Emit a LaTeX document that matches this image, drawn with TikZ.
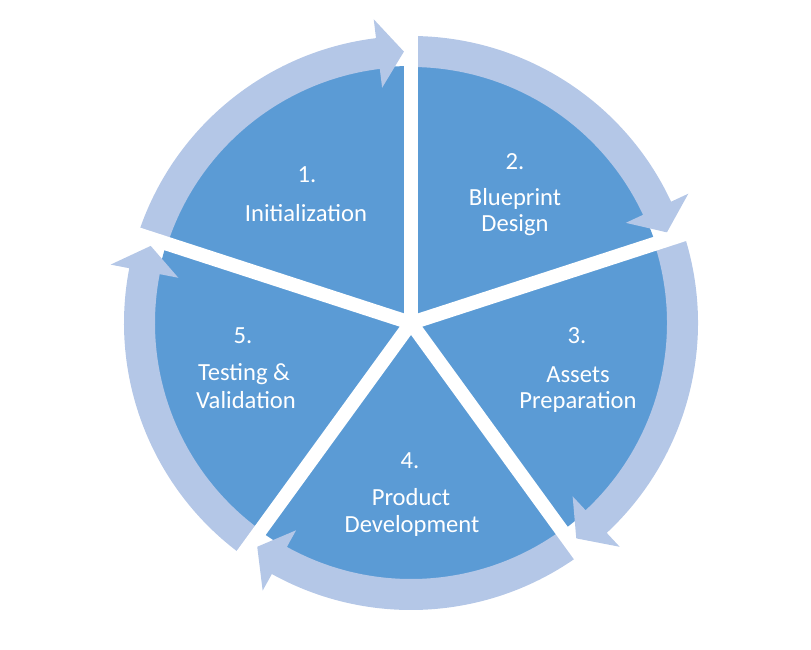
\documentclass[tikz,border=0pt]{standalone}
\usepackage{fontspec}
\setmainfont{Carlito}
\definecolor{pieblue}{HTML}{5B9BD5}
\definecolor{ringblue}{HTML}{B4C7E7}
\begin{document}
\begin{tikzpicture}[x=1pt,y=1pt,
  lbl/.style={text=white, font=\fontsize{24.6}{28}\selectfont, anchor=base, inner sep=0pt},
  ringarrow/.style={fill=ringblue, draw=none},
  gapline/.style={draw=white, line width=14pt}]
\useasboundingbox (0,0) rectangle (811,649);
\coordinate (c) at (411,326);
\fill[pieblue] (c) circle[radius=257];
\begin{scope}[shift={(c)}]
  \foreach \a/\b in {162/91.5, 90/19.5, 18/-52.5, -54/-124.5, -126/-196.5} {
    \pgfmathsetmacro\h{\b+5.5}
    \fill[ringarrow] (\a:287) arc[start angle=\a, end angle=\h, radius=287]
      -- (\h:306) -- (\b:271.5) -- (\h:237) -- (\h:256)
      arc[start angle=\h, end angle=\a, radius=256] -- cycle;
  }
  \coordinate (s1) at (90:310);
  \coordinate (s2) at (18:310);
  \coordinate (s3) at (-54:310);
  \coordinate (s4) at (-126:310);
  \coordinate (s5) at (162:310);
\end{scope}
\foreach \s in {s1,s2,s3,s4,s5} \draw[gapline] (c) -- (\s);

\node[lbl] (n1) at (307,466) {1.};
\node[lbl] (l1) at (306,427) {Initialization};
\node[lbl] (n2) at (515,479) {2.};
\node[lbl] (l2a) at (515,443) {Blueprint};
\node[lbl] (l2b) at (515,417) {Design};
\node[lbl] (n3) at (577,306) {3.};
\node[lbl] (l3a) at (578,267) {Assets};
\node[lbl] (l3b) at (578,241) {Preparation};
\node[lbl] (n4) at (410,181) {4.};
\node[lbl] (l4a) at (411,144) {Product};
\node[lbl] (l4b) at (412,117) {Development};
\node[lbl] (n5) at (243,306) {5.};
\node[lbl] (l5a) at (244,269) {Testing \&};
\node[lbl] (l5b) at (246,241) {Validation};
\end{tikzpicture}
\end{document}
